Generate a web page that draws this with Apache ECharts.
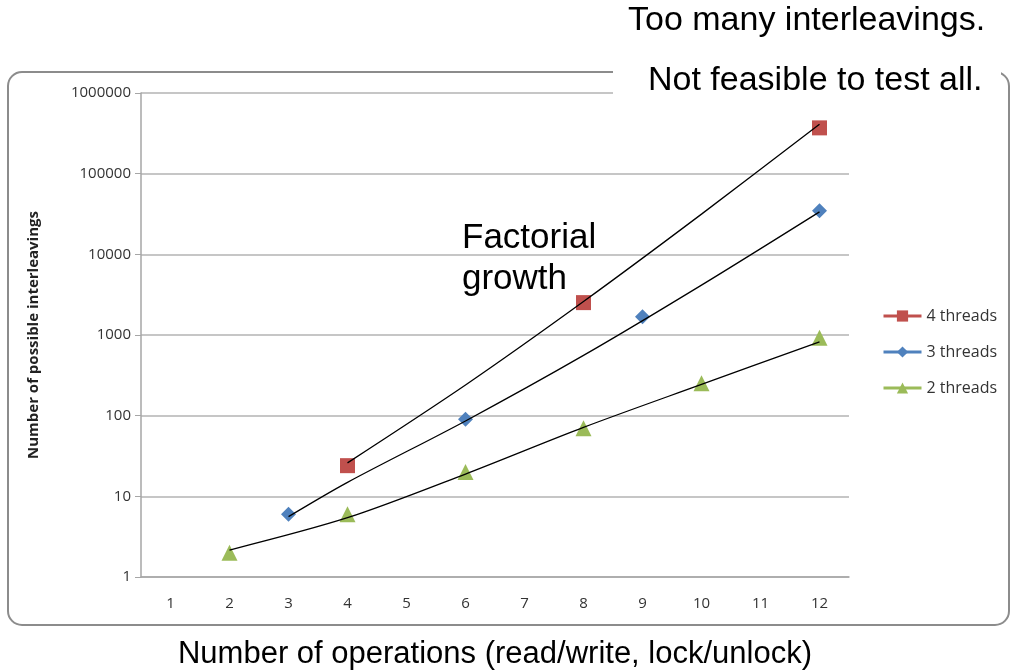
<!DOCTYPE html>
<html>
<head>
<meta charset="utf-8">
<script src="https://cdn.jsdelivr.net/npm/echarts@6/dist/echarts.min.js"></script>
<style>
  html, body { margin: 0; padding: 0; background: #fff; }
  #chart { width: 1014px; height: 670px; }
</style>
</head>
<body>
<div id="chart"></div>
<script>
  // x categories (number of operations)
  const categories = ['1', '2', '3', '4', '5', '6', '7', '8', '9', '10', '11', '12'];
  const yTicks = [1, 10, 100, 1000, 10000, 100000, 1000000];

  // measured points [operations, interleavings]
  const fourThreads = [['4', 24], ['8', 2520], ['12', 369600]];
  const threeThreads = [['3', 6], ['6', 90], ['9', 1680], ['12', 34650]];
  const twoThreads = [['2', 2], ['4', 6], ['6', 20], ['8', 70], ['10', 252], ['12', 924]];

  // black trend lines
  const fourTrend = [['4', 26], ['6', 240], ['8', 2600], ['10', 31500], ['12', 410000]];
  const threeTrend = [['3', 5.6], ['4', 14.9], ['6', 86], ['8', 558], ['10', 4150], ['12', 33600]];
  const twoTrend = [['2', 2.16], ['4', 5.43], ['6', 18.9], ['8', 71.6], ['10', 244], ['12', 824]];

  const red = '#C0504D', blue = '#4F81BD', green = '#9BBB59';

  let chart = echarts.init(document.getElementById('chart'));

  function markerSeries(name, data, color, symbol, size) {
    return {
      type: 'line',
      name: name,
      data: data,
      symbol: symbol,
      symbolSize: size,
      itemStyle: { color: color },
      lineStyle: { color: color, width: 3, opacity: 0 },
      z: 3
    };
  }

  function trendSeries(data) {
    return {
      type: 'line',
      data: data,
      showSymbol: false,
      smooth: 0.3,
      connectNulls: true,
      silent: true,
      lineStyle: { color: '#000', width: 1.3 },
      z: 5
    };
  }

  chart.setOption({
    animation: false,
    textStyle: { fontFamily: 'Open Sans' },
    grid: { left: 141, right: 165, top: 93, bottom: 93, outerBoundsMode: 'none' },
    legend: {
      orient: 'vertical',
      left: 877,
      top: 303,
      itemWidth: 38,
      itemHeight: 14,
      itemGap: 20,
      textStyle: { fontSize: 16, color: '#333', fontFamily: 'Open Sans' },
      data: [
        { name: '4 threads', lineStyle: { opacity: 1, width: 3 } },
        { name: '3 threads', lineStyle: { opacity: 1, width: 3 } },
        { name: '2 threads', lineStyle: { opacity: 1, width: 3 } }
      ]
    },
    xAxis: {
      type: 'category',
      data: categories,
      boundaryGap: true,
      axisLine: { lineStyle: { color: '#a6a6a6', width: 1.5 } },
      axisTick: { show: false },
      axisLabel: { fontSize: 15, color: '#333', margin: 19 },
      name: 'Number of operations (read/write, lock/unlock)',
      nameLocation: 'middle',
      nameGap: 62,
      nameTextStyle: { fontSize: 31, color: '#000', fontFamily: 'Liberation Sans' }
    },
    yAxis: {
      type: 'log',
      logBase: 10,
      min: yTicks[0],
      max: yTicks[yTicks.length - 1],
      axisLine: { show: true, lineStyle: { color: '#a6a6a6', width: 1.5 } },
      axisTick: { show: true, inside: false, length: 6, lineStyle: { color: '#a6a6a6' } },
      axisLabel: { fontSize: 15, color: '#333', margin: 10, formatter: function (v) { return String(v); } },
      splitLine: { lineStyle: { color: '#b3b3b3', width: 1.5 } },
      name: 'Number of possible interleavings',
      nameLocation: 'middle',
      nameRotate: 90,
      nameGap: 100,
      nameTextStyle: { fontSize: 15, fontWeight: 'bold', color: '#222' }
    },
    graphic: [
      {
        type: 'rect',
        z: -10,
        shape: { x: 8, y: 72, width: 1001, height: 553, r: 14 },
        style: { fill: 'none', stroke: '#8c8c8c', lineWidth: 2 }
      },
      {
        type: 'rect',
        z: 50,
        shape: { x: 613, y: 60, width: 388, height: 44 },
        style: { fill: '#fff' }
      },
      {
        type: 'text', z: 51, left: 628, top: 4,
        style: { text: 'Too many interleavings.', font: '34px "Liberation Sans"', fill: '#000' }
      },
      {
        type: 'text', z: 51, left: 648, top: 64,
        style: { text: 'Not feasible to test all.', font: '34px "Liberation Sans"', fill: '#000' }
      },
      {
        type: 'text', z: 51, left: 462, top: 218,
        style: { text: 'Factorial\ngrowth', font: '35px "Liberation Sans"', fill: '#000', lineHeight: 41 }
      }
    ],
    series: [
      markerSeries('4 threads', fourThreads, red, 'rect', 15),
      markerSeries('3 threads', threeThreads, blue, 'diamond', 15),
      markerSeries('2 threads', twoThreads, green, 'triangle', 16),
      trendSeries(fourTrend),
      trendSeries(threeTrend),
      trendSeries(twoTrend)
    ]
  });
</script>
</body>
</html>
